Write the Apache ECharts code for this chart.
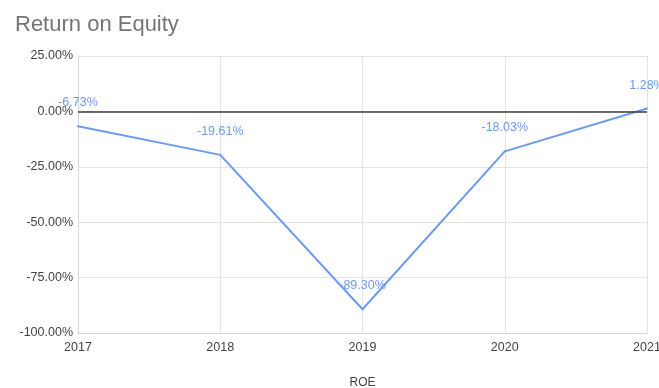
<!DOCTYPE html>
<html>
<head>
<meta charset="utf-8">
<script src="https://cdn.jsdelivr.net/npm/echarts@6/dist/echarts.min.js"></script>
<style>
  html, body { margin: 0; padding: 0; background: #fff; }
  #chart { width: 659px; height: 388px; }
</style>
</head>
<body>
<div id="chart"></div>
<script>
// Return on equity by year (percent)
const years = ['2017', '2018', '2019', '2020', '2021'];
const roe = [-6.73, -19.61, -89.30, -18.03, 1.28];
const yTicks = { min: -100, max: 25, step: 25 };

const chart = echarts.init(document.getElementById('chart'));
const font = '"Liberation Sans", Arial, sans-serif';
const blue = '#6d9beb';

chart.setOption({
  animation: false,
  backgroundColor: '#ffffff',
  title: {
    text: 'Return on Equity',
    left: 10,
    top: 9,
    textStyle: { fontFamily: font, fontSize: 22, fontWeight: 'normal', color: '#757575' }
  },
  grid: { left: 78, right: 12, top: 56, bottom: 55, outerBoundsMode: 'none' },
  xAxis: {
    type: 'category',
    data: years,
    boundaryGap: false,
    name: 'ROE',
    nameLocation: 'middle',
    nameGap: 44,
    nameTextStyle: { fontFamily: font, fontSize: 12, color: '#444' },
    axisLine: { onZero: false, lineStyle: { color: '#d6d6d6' } },
    axisTick: { show: false },
    axisLabel: { fontFamily: font, fontSize: 12.5, color: '#444', margin: 8 },
    splitLine: { show: true, lineStyle: { color: '#e4e4e4' } }
  },
  yAxis: {
    type: 'value',
    min: yTicks.min,
    max: yTicks.max,
    interval: yTicks.step,
    axisLine: { show: true, lineStyle: { color: '#d6d6d6' } },
    axisTick: { show: false },
    axisLabel: {
      fontFamily: font, fontSize: 12.5, color: '#444', margin: 5,
      formatter: v => v.toFixed(2) + '%'
    },
    splitLine: { lineStyle: { color: '#e4e4e4' } }
  },
  series: [{
    type: 'line',
    data: roe,
    symbol: 'circle',
    symbolSize: 2,
    showSymbol: true,
    itemStyle: { color: blue },
    lineStyle: { color: blue, width: 2 },
    label: {
      show: true,
      position: 'top',
      distance: 16,
      fontFamily: font,
      fontSize: 12.5,
      color: blue,
      formatter: p => p.value.toFixed(2) + '%'
    },
    labelLayout: { hideOverlap: false },
    markLine: {
      silent: true,
      symbol: 'none',
      label: { show: false },
      lineStyle: { color: '#3c3c3c', width: 1.5, type: 'solid' },
      data: [{ yAxis: 0 }]
    },
    z: 3
  }]
});
</script>
</body>
</html>
